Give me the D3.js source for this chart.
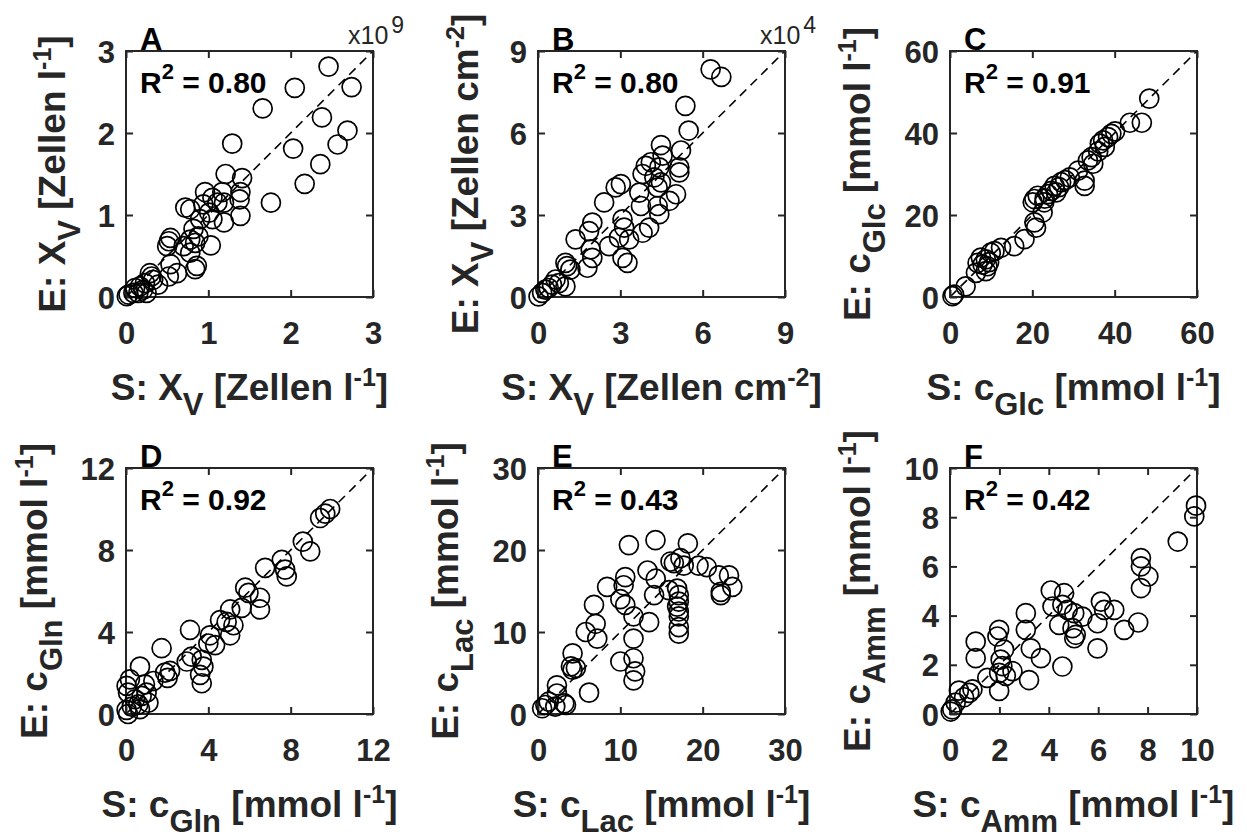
<!DOCTYPE html>
<html><head><meta charset="utf-8">
<script src="https://cdn.jsdelivr.net/npm/d3@7"></script>
<style>body{margin:0;background:#fff}svg{display:block}</style>
</head><body><svg id="c" width="1247" height="838"></svg>
<script>
// ---------- DATA (S = simulated on x, E = experimental on y) ----------
const aSim = [2.46,2.74,2.05,1.66,2.38,2.69,2.57,2.03,2.36,2.17,1.76,1.29,1.21,1.41,1.39,1.38,1.39,1.17,1.19,0.96,1.05,1.11,0.94,0.72,0.78,1.01,0.90,1.05,1.19,0.82,0.88,0.78,0.84,1.03,0.54,0.52,0.50,0.70,0.78,0.86,0.84,0.54,0.62,0.52,0.29,0.31,0.33,0.23,0.17,0.11,0.21,0.39,0.09,0.03,0.01,0.15,0.25];
const aExp = [2.81,2.56,2.55,2.30,2.19,2.03,1.86,1.81,1.62,1.38,1.15,1.87,1.50,1.45,1.28,1.19,0.99,1.28,1.15,1.28,1.21,1.15,1.13,1.09,1.07,1.03,0.95,0.95,0.91,0.83,0.74,0.70,0.66,0.63,0.72,0.68,0.62,0.62,0.54,0.38,0.34,0.40,0.29,0.25,0.29,0.25,0.21,0.17,0.13,0.11,0.09,0.15,0.05,0.03,0.01,0.05,0.05];

const bSim = [6.29,6.68,5.37,5.49,4.48,5.21,4.54,3.93,4.11,4.42,5.15,5.15,3.81,4.24,4.48,4.36,5.03,4.79,3.69,3.75,4.36,4.42,4.05,3.81,3.02,2.83,2.41,3.08,3.14,3.32,2.95,2.59,3.08,3.26,1.98,1.86,1.37,1.92,1.98,1.80,1.00,1.06,1.18,0.64,0.76,0.51,1.00,0.27,0.15,0.02,0.39];
const bExp = [8.33,8.05,6.99,6.09,5.56,5.36,5.17,4.80,4.93,4.74,4.74,4.56,4.50,4.38,4.19,4.01,3.76,3.52,3.82,3.33,3.33,3.03,2.54,2.35,4.13,4.01,3.46,2.84,2.54,2.11,2.17,1.86,1.43,1.25,2.72,2.41,2.11,1.74,1.43,1.07,1.25,1.13,1.00,0.64,0.51,0.45,0.39,0.27,0.15,0.02,0.33];

const cSim = [48.4,46.6,43.7,40.1,39.2,38.4,37.2,36.4,37.6,34.4,33.5,34.8,31.1,32.7,32.7,29.1,27.0,25.4,24.6,23.8,25.8,21.3,20.5,20.1,22.9,22.5,20.5,20.9,18.1,15.6,12.4,9.9,7.5,8.7,9.1,8.7,6.3,3.8,1.0,0.6,7.9,6.7,10.8,26.5,28.0,23.0,36.0,9.5];
const cExp = [48.4,42.5,42.5,40.4,39.8,39.0,38.2,37.4,36.6,34.1,33.3,32.5,30.8,28.4,27.1,29.2,28.0,27.1,25.9,25.1,25.5,24.7,23.9,23.1,23.1,20.6,18.2,16.9,14.1,12.4,12.0,10.8,9.6,9.2,7.5,6.3,5.9,2.6,0.6,0.2,7.9,8.3,11.2,26.8,28.5,24.0,35.5,8.5];

const dSim = [9.92,9.68,9.43,8.59,8.95,7.57,7.73,7.81,6.76,5.79,5.95,6.51,6.51,5.06,5.62,4.57,4.89,5.22,5.06,4.08,4.00,4.33,3.11,1.73,2.95,3.19,3.68,3.76,3.60,3.68,1.90,2.14,2.02,0.68,0.19,0.03,0.10,0.92,1.00,0.76,0.44,1.09,0.60,0.28,0.03,0.10,0.68,1.33];
const dExp = [10.0,9.77,9.56,8.41,7.93,7.52,7.04,6.71,7.13,6.16,5.91,5.67,5.10,5.10,5.18,4.58,4.49,4.33,3.84,3.84,3.44,3.36,4.10,3.21,2.56,2.80,2.64,2.31,1.91,1.50,2.02,2.10,1.76,2.31,1.69,1.37,1.04,1.45,1.04,0.88,0.72,0.55,0.47,0.36,0.20,0.00,0.24,1.61];

const eSim = [11.04,14.27,18.2,16.5,17.3,17.7,19.5,20.5,21.96,23.2,23.6,22.2,22.2,13.3,14.3,14.1,13.5,10.6,10.4,8.4,10.0,10.6,11.6,11.6,11.6,11.8,11.6,10.0,6.8,7.0,7.2,5.8,4.2,4.0,4.2,4.6,6.2,2.3,2.3,1.3,0.9,2.1,3.2,3.4,0.5,16.9,17.1,17.1,16.9,17.1,17.1,17.1,17.1,16.1,15.9];
const eExp = [20.6,21.2,20.8,18.4,19.0,18.1,18.1,17.9,16.9,16.9,15.5,14.9,14.5,17.5,16.5,14.5,11.2,16.7,15.7,15.5,14.0,13.3,11.9,9.2,6.8,5.2,4.1,6.4,13.3,11.0,9.2,10.0,7.4,5.8,5.4,5.6,2.6,3.5,2.5,1.5,1.1,0.9,1.3,1.1,0.7,15.3,14.5,13.7,13.1,12.5,11.9,10.6,9.8,18.6,15.1];

const fSim = [9.96,9.89,9.22,7.73,7.73,8.03,7.73,7.62,7.05,4.08,4.62,4.15,4.55,4.76,5.03,5.36,4.42,4.96,5.09,5.03,6.11,6.24,6.65,5.97,5.97,4.55,3.07,3.07,3.27,3.68,3.20,1.99,1.92,1.04,1.04,2.19,2.05,2.12,2.53,1.99,2.26,1.51,1.99,0.91,0.78,0.36,0.57,0.23,0.09,0.03];
const fExp = [8.47,8.03,7.01,6.34,6.00,5.59,5.12,3.72,3.42,5.02,4.91,4.37,4.44,4.23,4.10,3.96,3.62,3.49,3.22,3.08,4.57,4.23,4.23,3.69,2.67,1.93,4.10,3.42,2.67,2.27,1.38,3.42,3.15,2.94,2.27,2.62,2.21,1.95,1.74,1.67,1.55,1.47,0.94,1.00,0.86,0.95,0.68,0.46,0.19,0.10];

const panelLetters = ["A","B","C","D","E","F"];
const r2Labels = ["0.80","0.80","0.91","0.92","0.43","0.42"];
const axisMax = [3, 9, 60, 12, 30, 10];
const tickValues = [[0,1,2,3],[0,3,6,9],[0,20,40,60],[0,4,8,12],[0,10,20,30],[0,2,4,6,8,10]];
const exponents = ["9","4",null,null,null,null];
const quantity = [["X","V"],["X","V"],["c","Glc"],["c","Gln"],["c","Lac"],["c","Amm"]];
const unitMain = ["Zellen l","Zellen cm","mmol l","mmol l","mmol l","mmol l"];
const unitExp = ["-1","-2","-1","-1","-1","-1"];
const simValues = [aSim,bSim,cSim,dSim,eSim,fSim];
const expValues = [aExp,bExp,cExp,dExp,eExp,fExp];

// ---------- LAYOUT ----------
const colLeft = [126, 538, 950];
const rowTop = [51, 468];
const W = 247, H = 246;
const yLabOff = [61, 60, 80, 79, 80, 80];
const FONT = "'Liberation Sans', Arial, Helvetica, sans-serif";
const AX = "#262626";

const svg = d3.select("#c");

function richLabel(g, prefix, q, main, sup) {
  const t = g.append("text").attr("font-family", FONT).attr("font-weight", "bold")
    .attr("font-size", 37).attr("fill", AX).attr("text-anchor", "middle");
  t.append("tspan").text(prefix + q[0]);
  t.append("tspan").attr("font-size", 31).attr("dy", 15).text(q[1]);
  t.append("tspan").attr("dy", -15).text(" [" + main);
  t.append("tspan").attr("font-size", 25).attr("dy", -14).text(sup);
  t.append("tspan").attr("dy", 14).text("]");
  return t;
}

for (let i = 0; i < 6; i++) {
  const left = colLeft[i % 3], top = rowTop[Math.floor(i / 3)];
  const g = svg.append("g").attr("transform", `translate(${left},${top})`);
  const x = d3.scaleLinear().domain([0, axisMax[i]]).range([0, W]);
  const y = d3.scaleLinear().domain([0, axisMax[i]]).range([H, 0]);
  const tv = tickValues[i];

  // diagonal
  g.append("line").attr("x1", x(0)).attr("y1", y(0)).attr("x2", x(axisMax[i])).attr("y2", y(axisMax[i]))
    .attr("stroke", "#000").attr("stroke-width", 1.6).attr("stroke-dasharray", "9,6");

  // axes (ticks inside, all 4 sides)
  const mk = (ax) => ax.tickValues(tv).tickSizeOuter(0).tickSizeInner(-7).tickPadding(11).tickFormat(d3.format("d"));
  const styleAx = (sel) => {
    sel.select(".domain").remove();
    sel.selectAll(".tick line").attr("stroke", AX).attr("stroke-width", 2);
    sel.selectAll("text").attr("font-family", FONT).attr("font-weight", "bold").attr("font-size", 31).attr("fill", AX);
  };
  const gb = g.append("g").attr("transform", `translate(0,${H})`).call(mk(d3.axisBottom(x)));
  styleAx(gb); gb.selectAll("text").attr("dy", null).attr("y", 47);
  const gl = g.append("g").call(mk(d3.axisLeft(y)));
  styleAx(gl); gl.selectAll("text").attr("dy", "0.36em").attr("x", -11);
  const gt = g.append("g").call(mk(d3.axisTop(x)));
  styleAx(gt); gt.selectAll("text").remove();
  const gr = g.append("g").attr("transform", `translate(${W},0)`).call(mk(d3.axisRight(y)));
  styleAx(gr); gr.selectAll("text").remove();
  g.append("rect").attr("x", 0).attr("y", 0).attr("width", W).attr("height", H)
    .attr("fill", "none").attr("stroke", AX).attr("stroke-width", 2);

  // points
  g.append("g").selectAll("circle").data(simValues[i].map((s, k) => [s, expValues[i][k]])).join("circle")
    .attr("cx", d => x(d[0])).attr("cy", d => y(d[1])).attr("r", 9.5)
    .attr("fill", "none").attr("stroke", "#000").attr("stroke-width", 1.7);

  // panel letter
  g.append("text").attr("x", 14).attr("y", -1).attr("font-family", FONT).attr("font-weight", "bold")
    .attr("font-size", 31).attr("fill", "#000").text(panelLetters[i]);

  // R^2
  const rt = g.append("text").attr("x", 14).attr("y", 42).attr("font-family", FONT).attr("font-weight", "bold")
    .attr("font-size", 30).attr("fill", "#000");
  rt.append("tspan").text("R");
  rt.append("tspan").attr("font-size", 22).attr("dy", -14).text("2");
  rt.append("tspan").attr("dy", 14).text(" = " + r2Labels[i]);

  // exponent
  if (exponents[i]) {
    const et = g.append("text").attr("x", W - 25).attr("y", -7).attr("font-family", FONT)
      .attr("font-size", 25).attr("fill", AX);
    et.append("tspan").text("x10");
    et.append("tspan").attr("font-size", 23).attr("dx", 3).attr("dy", -11).text(exponents[i]);
  }

  // axis labels
  const xl = richLabel(g, "S: ", quantity[i], unitMain[i], unitExp[i]);
  xl.attr("x", W / 2).attr("y", H + 103);
  const yl = richLabel(g, "E: ", quantity[i], unitMain[i], unitExp[i]);
  yl.attr("transform", `translate(${-yLabOff[i]},${H / 2}) rotate(-90)`);
}
</script></body></html>
